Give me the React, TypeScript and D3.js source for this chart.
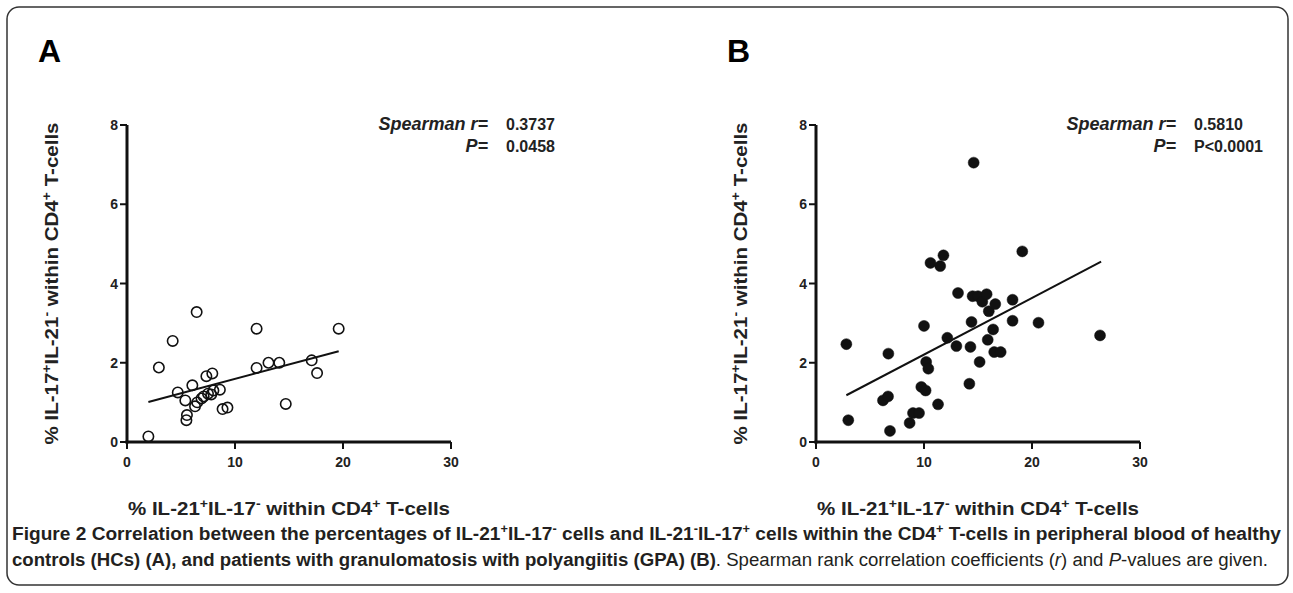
import React from "react";
import * as d3 from "d3";

// ---- Data ----
const xTicks = [0, 10, 20, 30];
const yTicks = [0, 2, 4, 6, 8];

const hcX = [1.98, 2.95, 4.23, 6.45, 4.7, 5.4, 5.5, 5.55, 6.05, 6.3, 6.5, 6.9, 7.1, 7.35, 7.9, 7.5, 7.8, 8.0, 8.6, 8.85, 9.3, 12.0, 12.0, 13.1, 14.1, 14.7, 17.1, 17.6, 19.6];
const hcY = [0.14, 1.88, 2.55, 3.28, 1.25, 1.05, 0.55, 0.68, 1.43, 0.9, 1.0, 1.1, 1.15, 1.66, 1.73, 1.22, 1.2, 1.3, 1.32, 0.83, 0.87, 2.86, 1.87, 2.0, 2.0, 0.96, 2.06, 1.74, 2.86];

const gpaX = [2.81, 2.99, 6.7, 6.2, 6.67, 6.85, 8.67, 8.98, 9.54, 9.75, 10.15, 10.0, 10.2, 10.4, 11.3, 10.6, 11.5, 11.8, 12.16, 13.0, 13.15, 14.2, 14.3, 14.4, 14.6, 14.5, 15.0, 15.15, 15.4, 15.8, 15.9, 16.0, 16.4, 16.6, 16.5, 17.1, 18.2, 18.2, 19.1, 20.6, 26.3];
const gpaY = [2.47, 0.55, 2.23, 1.05, 1.15, 0.28, 0.48, 0.73, 0.73, 1.39, 1.3, 2.93, 2.02, 1.85, 0.95, 4.52, 4.44, 4.71, 2.63, 2.42, 3.76, 1.47, 2.4, 3.03, 7.05, 3.68, 3.68, 2.02, 3.54, 3.73, 2.58, 3.3, 2.84, 3.48, 2.27, 2.27, 3.59, 3.06, 4.81, 3.01, 2.69];

const hcFitX = [1.98, 19.6];
const hcFitY = [1.01, 2.29];
const gpaFitX = [2.81, 26.4];
const gpaFitY = [1.18, 4.55];

const panelLetters = ["A", "B"];
const spearmanR = ["0.3737", "0.5810"];
const pValues = ["0.0458", "P<0.0001"];

const FONT = "'Liberation Sans', Arial, Helvetica, sans-serif";

type PanelProps = {
  left: number;
  letter: string;
  xs: number[];
  ys: number[];
  fitX: number[];
  fitY: number[];
  filled: boolean;
  r: string;
  p: string;
  annX: number;
};

function Panel({ left, letter, xs, ys, fitX, fitY, filled, r, p, annX }: PanelProps) {
  const x = d3.scaleLinear().domain([0, 30]).range([left, left + 324]);
  const y = d3.scaleLinear().domain([0, 8]).range([442, 125]);
  const line = d3
    .line<number>()
    .x((_, i) => x(fitX[i]))
    .y((_, i) => y(fitY[i]));
  const midY = (y(0) + y(8)) / 2;
  const midX = (x(0) + x(30)) / 2;
  const supFs = 13;
  return (
    <g fontFamily={FONT}>
      <text x={left - 89} y={62} fontSize={32} fontWeight="bold">
        {letter}
      </text>
      {/* annotation */}
      <text x={annX} y={130} fontSize={18} fontWeight="bold" fontStyle="italic" textAnchor="end" fill="#222">
        Spearman r=
      </text>
      <text x={annX + 18} y={130} fontSize={16} fontWeight="bold" fill="#222">
        {r}
      </text>
      <text x={annX} y={152} fontSize={18} fontWeight="bold" fontStyle="italic" textAnchor="end" fill="#222">
        P=
      </text>
      <text x={annX + 18} y={152} fontSize={16} fontWeight="bold" fill="#222">
        {p}
      </text>
      {/* axes */}
      <line x1={x(0)} x2={x(0)} y1={y(0) + 1.5} y2={y(8)} stroke="#111" strokeWidth={3} />
      <line x1={x(0) - 1.5} x2={x(30)} y1={y(0)} y2={y(0)} stroke="#111" strokeWidth={3} />
      {yTicks.map((t) => (
        <g key={"y" + t}>
          <line x1={x(0) - 7} x2={x(0)} y1={y(t)} y2={y(t)} stroke="#111" strokeWidth={2} />
          <text x={x(0) - 9} y={y(t) + 5} fontSize={14} fontWeight="bold" textAnchor="end" fill="#222">
            {t}
          </text>
        </g>
      ))}
      {xTicks.map((t) => (
        <g key={"x" + t}>
          <line x1={x(t)} x2={x(t)} y1={y(0)} y2={y(0) + 7} stroke="#111" strokeWidth={2} />
          <text x={x(t)} y={y(0) + 25} fontSize={14} fontWeight="bold" textAnchor="middle" fill="#222">
            {t}
          </text>
        </g>
      ))}
      {/* axis titles */}
      <text x={midX} y={515} fontSize={19} fontWeight="bold" textAnchor="middle" fill="#222" textLength={322} lengthAdjust="spacingAndGlyphs">
        % IL-21<tspan fontSize={supFs} dy={-7}>+</tspan>
        <tspan dy={7}>IL-17</tspan>
        <tspan fontSize={supFs} dy={-7}>-</tspan>
        <tspan dy={7}> within CD4</tspan>
        <tspan fontSize={supFs} dy={-7}>+</tspan>
        <tspan dy={7}> T-cells</tspan>
      </text>
      <text
        transform={`translate(${left - 69},${midY}) rotate(-90)`}
        fontSize={19}
        fontWeight="bold"
        textAnchor="middle"
        fill="#222"
        textLength={322}
        lengthAdjust="spacingAndGlyphs"
      >
        % IL-17<tspan fontSize={supFs} dy={-7}>+</tspan>
        <tspan dy={7}>IL-21</tspan>
        <tspan fontSize={supFs} dy={-7}>-</tspan>
        <tspan dy={7}> within CD4</tspan>
        <tspan fontSize={supFs} dy={-7}>+</tspan>
        <tspan dy={7}> T-cells</tspan>
      </text>
      {/* fit */}
      <path d={line(fitX) || ""} fill="none" stroke="#111" strokeWidth={2} />
      {/* points */}
      {xs.map((v, i) => (
        <circle
          key={i}
          cx={x(v)}
          cy={y(ys[i])}
          r={filled ? 5.5 : 5.2}
          fill={filled ? "#111" : "none"}
          stroke="#111"
          strokeWidth={filled ? 0.5 : 1.6}
        />
      ))}
    </g>
  );
}

export default function App() {
  return (
    <svg width={1293} height={593} style={{ display: "block", position: "absolute", left: 0, top: 0 }}>
      <rect x={0} y={0} width={1293} height={593} fill="#fff" />
      <rect x={7} y={7} width={1281} height={578} rx={12} ry={12} fill="none" stroke="#333" strokeWidth={1.5} />
      <Panel left={127} letter={panelLetters[0]} xs={hcX} ys={hcY} fitX={hcFitX} fitY={hcFitY} filled={false} r={spearmanR[0]} p={pValues[0]} annX={488} />
      <Panel left={816} letter={panelLetters[1]} xs={gpaX} ys={gpaY} fitX={gpaFitX} fitY={gpaFitY} filled={true} r={spearmanR[1]} p={pValues[1]} annX={1176} />
      <g fontFamily="'Liberation Sans Narrow', 'Arial Narrow', 'Liberation Sans', Arial, sans-serif" fill="#231f20">
        <text x={12} y={540} fontSize={18} textLength={1269} lengthAdjust="spacingAndGlyphs" fontWeight="bold">
          <tspan>Figure 2</tspan> Correlation between the percentages of IL-21<tspan fontSize={12} dy={-7}>+</tspan>
          <tspan dy={7}>IL-17</tspan>
          <tspan fontSize={12} dy={-7}>-</tspan>
          <tspan dy={7}> cells and IL-21</tspan>
          <tspan fontSize={12} dy={-7}>-</tspan>
          <tspan dy={7}>IL-17</tspan>
          <tspan fontSize={12} dy={-7}>+</tspan>
          <tspan dy={7}> cells within the CD4</tspan>
          <tspan fontSize={12} dy={-7}>+</tspan>
          <tspan dy={7}> T-cells in peripheral blood of healthy</tspan>
        </text>
        <text x={12} y={566} fontSize={18} textLength={1256} lengthAdjust="spacingAndGlyphs">
          <tspan fontWeight="bold">controls (HCs) (A), and patients with granulomatosis with polyangiitis (GPA) (B)</tspan>. Spearman rank correlation coefficients (<tspan fontStyle="italic">r</tspan>) and <tspan fontStyle="italic">P</tspan>-values are given.
        </text>
      </g>
    </svg>
  );
}
